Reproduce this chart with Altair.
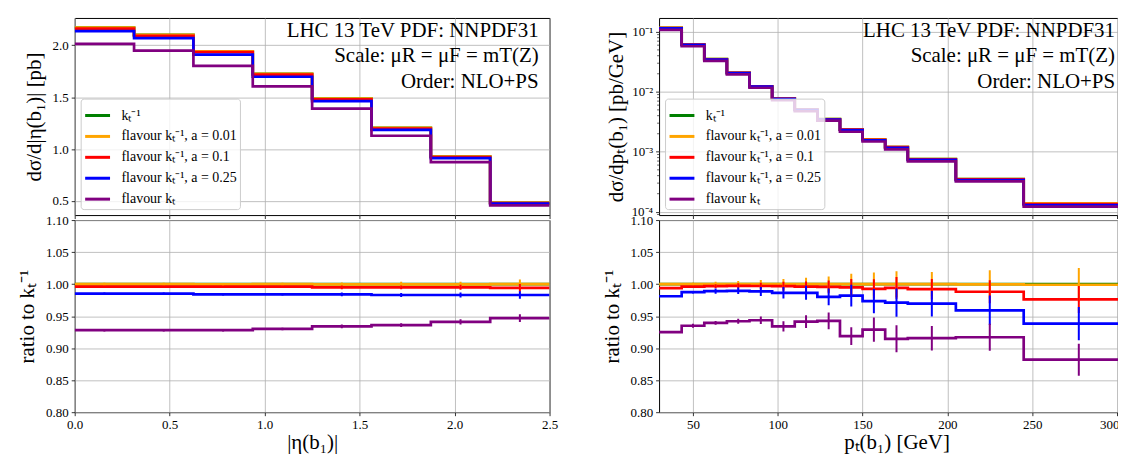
import altair as alt
import pandas as pd

FONT = "Liberation Serif"

series = ["kₜ⁻¹", "flavour kₜ⁻¹, a = 0.01", "flavour kₜ⁻¹, a = 0.1",
          "flavour kₜ⁻¹, a = 0.25", "flavour kₜ"]
colors = ["#008000", "#ffa500", "#ff0000", "#0000ff", "#800080"]

notes = ["LHC 13 TeV PDF: NNPDF31", "Scale: μR = μF = mT(Z)", "Order: NLO+PS"]

# ---------------- |eta(b1)| ----------------
eta_edges = [0.0, 0.3125, 0.625, 0.9375, 1.25, 1.5625, 1.875, 2.1875, 2.5]
eta_green = [2.170, 2.100, 1.942, 1.725, 1.487, 1.205, 0.928, 0.482]
eta_orange = [2.170, 2.100, 1.941, 1.725, 1.486, 1.204, 0.928, 0.482]
eta_red = [2.161, 2.092, 1.934, 1.718, 1.480, 1.198, 0.923, 0.479]
eta_blue = [2.137, 2.069, 1.911, 1.697, 1.462, 1.185, 0.912, 0.473]
eta_purple = [2.014, 1.949, 1.802, 1.605, 1.389, 1.128, 0.873, 0.456]

eta_r_green = [1.0, 1.0, 1.0, 1.0, 1.0, 1.0, 1.0, 1.0]
eta_r_orange = [1.000, 1.000, 0.9995, 1.000, 0.9995, 0.9995, 0.9995, 1.000]
eta_r_red = [0.996, 0.996, 0.996, 0.996, 0.995, 0.995, 0.995, 0.994]
eta_r_blue = [0.985, 0.985, 0.984, 0.984, 0.984, 0.983, 0.983, 0.983]
eta_r_purple = [0.928, 0.928, 0.928, 0.930, 0.934, 0.936, 0.941, 0.947]

eta_e_orange = [0.002, 0.002, 0.002, 0.002, 0.003, 0.004, 0.004, 0.007]
eta_e_red = [0.002, 0.002, 0.002, 0.002, 0.003, 0.003, 0.004, 0.006]
eta_e_blue = [0.002, 0.002, 0.002, 0.002, 0.003, 0.003, 0.004, 0.006]
eta_e_purple = [0.002, 0.002, 0.002, 0.002, 0.003, 0.003, 0.004, 0.006]

# ---------------- pT(b1) ----------------
pt_edges = [30, 43.33, 56.67, 70, 83.33, 96.67, 110, 123.33, 136.67, 150,
            163.33, 176.67, 205, 245, 310]
pt_green = [0.1166, 0.0615, 0.0350, 0.0207, 0.0124, 0.00774, 0.00508, 0.00350,
            0.00235, 0.00160, 0.00120, 0.000755, 0.000350, 0.000138]
pt_orange = [0.1166, 0.0615, 0.0350, 0.0207, 0.0124, 0.00774, 0.00508, 0.00350,
             0.00235, 0.00160, 0.00120, 0.000755, 0.000350, 0.0001379]
pt_red = [0.11585, 0.06125, 0.03488, 0.02064, 0.01236, 0.00771, 0.00506, 0.003485,
          0.002338, 0.001588, 0.001193, 0.000749, 0.000346, 0.0001347]
pt_blue = [0.1144, 0.0607, 0.03462, 0.02048, 0.01226, 0.00763, 0.00501, 0.00343,
           0.002308, 0.001558, 0.001165, 0.000732, 0.000336, 0.0001295]
pt_purple = [0.1079, 0.0575, 0.03288, 0.0195, 0.0117, 0.00723, 0.00478, 0.0033,
             0.00216, 0.001486, 0.001098, 0.000691, 0.000321, 0.0001217]

pt_r_green = [1.0] * 14
pt_r_orange = [1.000, 1.000, 1.000, 1.000, 1.000, 1.000, 1.000, 1.000,
               1.000, 1.000, 1.000, 1.000, 0.9995, 0.999]
pt_r_red = [0.9936, 0.996, 0.9967, 0.9973, 0.997, 0.9967, 0.996, 0.9957,
            0.995, 0.9926, 0.994, 0.992, 0.988, 0.976]
pt_r_blue = [0.981, 0.9874, 0.989, 0.9895, 0.9885, 0.9864, 0.9864, 0.980,
             0.982, 0.9735, 0.971, 0.9694, 0.959, 0.9384]
pt_r_purple = [0.925, 0.935, 0.9394, 0.942, 0.9435, 0.934, 0.9415, 0.9425,
               0.9188, 0.929, 0.9146, 0.9155, 0.917, 0.882]

pt_e_orange = [0.001, 0.002, 0.0035, 0.005, 0.0065, 0.008, 0.010, 0.012,
               0.016, 0.018, 0.020, 0.019, 0.022, 0.026]
pt_e_red = [0.001, 0.002, 0.003, 0.004, 0.005, 0.007, 0.008, 0.010,
            0.013, 0.015, 0.017, 0.016, 0.018, 0.021]
pt_e_blue = [0.001, 0.002, 0.004, 0.005, 0.007, 0.009, 0.011, 0.013,
             0.017, 0.019, 0.022, 0.020, 0.023, 0.026]
pt_e_purple = [0.001, 0.003, 0.003, 0.004, 0.006, 0.008, 0.010, 0.013,
               0.014, 0.019, 0.021, 0.019, 0.021, 0.025]

log_major = [1e-4, 1e-3, 1e-2, 1e-1]
log_minor = [m * 10.0 ** e for e in (-5, -4, -3, -2, -1) for m in range(2, 10)]
log_minor = [v for v in log_minor if 8.8e-5 < v < 0.1706]


def step_df(edges, vals_list):
    rows = []
    for s, vals in zip(series, vals_list):
        for i, v in enumerate(vals):
            rows.append({"x": edges[i], "y": v, "series": s})
        rows.append({"x": edges[-1], "y": vals[-1], "series": s})
    return pd.DataFrame(rows)


def err_df(edges, vals_list, errs_list, names):
    rows = []
    for s, vals, errs in zip(names, vals_list, errs_list):
        for i, (v, e) in enumerate(zip(vals, errs)):
            c = 0.5 * (edges[i] + edges[i + 1])
            rows.append({"x": c, "y": v - e, "hi": v + e, "series": s})
    return pd.DataFrame(rows)


W = 477
H_TOP = 198
H_BOT = 193

legend = alt.Legend(
    title=None, orient="bottom-left", offset=6,
    fillColor="rgba(255,255,255,0.8)", strokeColor="#cccccc", cornerRadius=3,
    padding=3, symbolType="stroke", symbolSize=625, symbolStrokeWidth=3,
    labelFontSize=14, labelFont=FONT, labelColor="black", labelOffset=10,
    rowPadding=0, labelLimit=400,
)


def color_enc(leg):
    return alt.Color("series:N", sort=series,
                     scale=alt.Scale(domain=series, range=colors), legend=leg)


def notes_layer(right_px):
    layers = []
    for txt, yy in zip(notes, [19, 44, 70]):
        layers.append(
            alt.Chart(pd.DataFrame({"t": [txt]})).mark_text(
                align="right", baseline="alphabetic", font=FONT, fontSize=21,
                color="black"
            ).encode(text="t:N", x=alt.value(right_px), y=alt.value(yy))
        )
    return layers


XLAB = dict(labelPadding=3, titlePadding=0)

# ---------- left ----------
xL_scale = alt.Scale(domain=[0, 2.5], nice=False, zero=False)
xL_vals = [0, 0.5, 1.0, 1.5, 2.0, 2.5]
xL_axis_top = alt.Axis(values=xL_vals, labels=False, title=None)
xL_axis_bot = alt.Axis(values=xL_vals, format=".1f", title="|η(b₁)|", **XLAB)

yL_scale = alt.Scale(domain=[0.363, 2.264], nice=False, zero=False)
yL_axis = alt.Axis(values=[0.5, 1.0, 1.5, 2.0], format=".1f", title="dσ/d|η(b₁)| [pb]")

r_scale = alt.Scale(domain=[0.80, 1.10], nice=False, zero=False)
r_axis = alt.Axis(values=[0.80, 0.85, 0.90, 0.95, 1.00, 1.05, 1.10], format=".2f",
                  title="ratio to kₜ⁻¹")

topL_lines = alt.Chart(step_df(eta_edges, [eta_green, eta_orange, eta_red, eta_blue, eta_purple])).mark_line(
    interpolate="step-after", strokeWidth=2.7, clip=True
).encode(
    x=alt.X("x:Q", scale=xL_scale, axis=xL_axis_top),
    y=alt.Y("y:Q", scale=yL_scale, axis=yL_axis),
    color=color_enc(legend),
)
topL = alt.layer(topL_lines, *notes_layer(W - 11)).properties(width=W, height=H_TOP)

botL_lines = alt.Chart(step_df(eta_edges, [eta_r_green, eta_r_orange, eta_r_red, eta_r_blue, eta_r_purple])).mark_line(
    interpolate="step-after", strokeWidth=2.7, clip=True
).encode(
    x=alt.X("x:Q", scale=xL_scale, axis=xL_axis_bot),
    y=alt.Y("y:Q", scale=r_scale, axis=r_axis),
    color=color_enc(None),
)
botL_err = alt.Chart(err_df(eta_edges,
                            [eta_r_orange, eta_r_red, eta_r_blue, eta_r_purple],
                            [eta_e_orange, eta_e_red, eta_e_blue, eta_e_purple],
                            series[1:])).mark_rule(strokeWidth=2, clip=True).encode(
    x=alt.X("x:Q", scale=xL_scale, axis=xL_axis_bot),
    y=alt.Y("y:Q", scale=r_scale, axis=r_axis),
    y2="hi:Q",
    color=color_enc(None),
)
botL = alt.layer(botL_lines, botL_err).properties(width=W, height=H_BOT)

# ---------- right ----------
xR_scale = alt.Scale(domain=[30, 310], nice=False, zero=False)
xR_vals = [50, 100, 150, 200, 250, 300]
xR_axis_top = alt.Axis(values=xR_vals, labels=False, title=None)
xR_axis_bot = alt.Axis(
    values=xR_vals, format="d", title="pₜ(b₁) [GeV]",
    labelAlign={"condition": {"test": "datum.value >= 300", "value": "right"}, "value": "center"},
    labelOffset={"condition": {"test": "datum.value >= 300", "value": 2}, "value": 0},
    **XLAB,
)
yR_scale = alt.Scale(type="log", domain=[8.8e-5, 0.1706], nice=False)
log_label = ("datum.value > 0.05 ? '10⁻¹' : datum.value > 0.005 ? '10⁻²' : "
             "datum.value > 0.0005 ? '10⁻³' : '10⁻⁴'")
yR_axis = alt.Axis(values=log_major, labelExpr=log_label, title="dσ/dpₜ(b₁) [pb/GeV]",
                   titlePadding=5)

topR_lines = alt.Chart(step_df(pt_edges, [pt_green, pt_orange, pt_red, pt_blue, pt_purple])).mark_line(
    interpolate="step-after", strokeWidth=2.7, clip=True
).encode(
    x=alt.X("x:Q", scale=xR_scale, axis=xR_axis_top),
    y=alt.Y("y:Q", scale=yR_scale, axis=yR_axis),
    color=color_enc(legend),
)
topR_minor = alt.Chart(pd.DataFrame({"y": log_minor})).mark_rule(
    color="black", strokeWidth=0.6
).encode(
    y=alt.Y("y:Q", scale=yR_scale, axis=yR_axis),
    x=alt.value(0), x2=alt.value(-2),
)
topR = alt.layer(topR_lines, topR_minor, *notes_layer(W - 19)).properties(width=W, height=H_TOP)

botR_lines = alt.Chart(step_df(pt_edges, [pt_r_green, pt_r_orange, pt_r_red, pt_r_blue, pt_r_purple])).mark_line(
    interpolate="step-after", strokeWidth=2.7, clip=True
).encode(
    x=alt.X("x:Q", scale=xR_scale, axis=xR_axis_bot),
    y=alt.Y("y:Q", scale=r_scale, axis=r_axis),
    color=color_enc(None),
)
botR_err = alt.Chart(err_df(pt_edges,
                            [pt_r_orange, pt_r_red, pt_r_blue, pt_r_purple],
                            [pt_e_orange, pt_e_red, pt_e_blue, pt_e_purple],
                            series[1:])).mark_rule(strokeWidth=2, clip=True).encode(
    x=alt.X("x:Q", scale=xR_scale, axis=xR_axis_bot),
    y=alt.Y("y:Q", scale=r_scale, axis=r_axis),
    y2="hi:Q",
    color=color_enc(None),
)
botR = alt.layer(botR_lines, botR_err).properties(width=W, height=H_BOT)

chart = alt.concat(
    topL, topR, botL, botR, columns=2,
    spacing={"row": 5, "column": 110}, bounds="flush",
).resolve_scale(color="independent").resolve_legend(color="independent").properties(
    padding={"left": 8, "top": 8, "right": -17, "bottom": 0}
).configure_view(
    stroke="black", strokeWidth=1
).configure_axis(
    grid=True, gridColor="#b0b0b0", gridWidth=0.8, domain=False,
    tickColor="black", tickSize=3.5, tickWidth=0.8, labelFlush=False,
    labelFont=FONT, labelFontSize=13, labelColor="black", labelPadding=3,
    titleFont=FONT, titleFontSize=21, titleFontWeight="normal", titleColor="black",
    titlePadding=8,
)

chart.save("out.html", embed_options={"renderer": "svg", "actions": False})
